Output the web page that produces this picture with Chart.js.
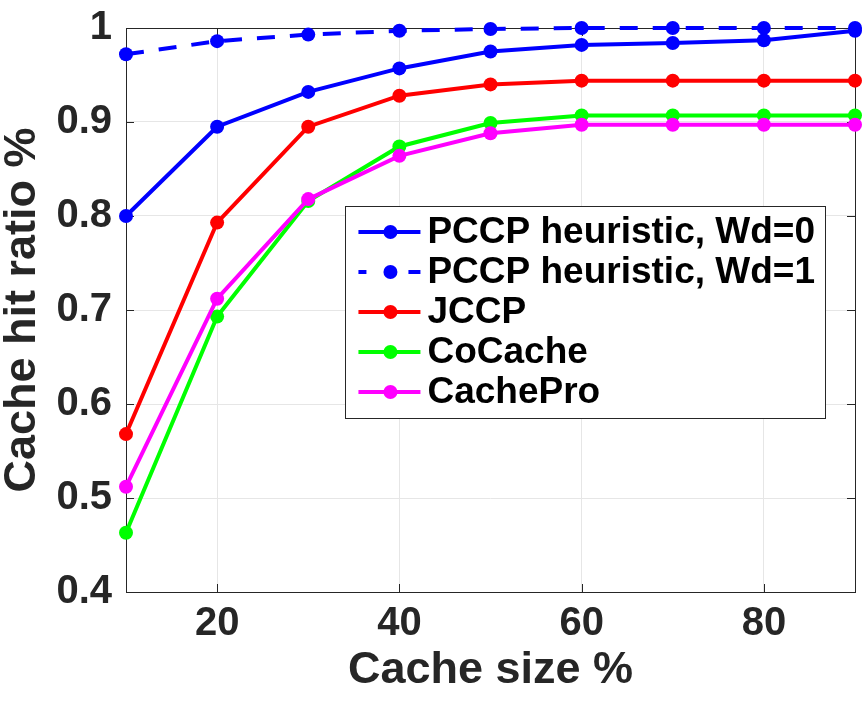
<!DOCTYPE html>
<html>
<head>
<meta charset="utf-8">
<script src="https://cdn.jsdelivr.net/npm/chart.js@4/dist/chart.umd.min.js"></script>
<style>
  body { margin: 0; background: #fff; }
</style>
</head>
<body>
<canvas id="hitChart" width="864" height="701"></canvas>
<script>
const cacheSizes = [10, 20, 30, 40, 50, 60, 70, 80, 90];
const pccpWd0 = [0.800, 0.895, 0.932, 0.957, 0.975, 0.982, 0.984, 0.987, 0.997];
const pccpWd1 = [0.972, 0.986, 0.993, 0.997, 0.999, 1.0, 1.0, 1.0, 1.0];
const jccp = [0.568, 0.793, 0.895, 0.928, 0.940, 0.944, 0.944, 0.944, 0.944];
const coCache = [0.463, 0.693, 0.816, 0.874, 0.899, 0.907, 0.907, 0.907, 0.907];
const cachePro = [0.512, 0.712, 0.818, 0.864, 0.888, 0.897, 0.897, 0.897, 0.897];
const xTicks = [20, 40, 60, 80];
const yTicks = [0.4, 0.5, 0.6, 0.7, 0.8, 0.9, 1];

const FONT = "'Liberation Sans', Arial, Helvetica, sans-serif";
const AXIS_COLOR = '#262626';

function series(label, values, color, dash, order) {
    return {
        label: label,
        data: cacheSizes.map((x, i) => ({ x: x, y: values[i] })),
        borderColor: color,
        backgroundColor: color,
        borderWidth: 4,
        borderDash: dash,
        pointRadius: 7,
        pointBorderWidth: 0,
        pointBackgroundColor: color,
        tension: 0,
        clip: false,
        order: order
    };
}

// axes box with inward tick marks, like the original figure
const boxPlugin = {
    id: 'axesBox',
    beforeDatasetsDraw(chart) {
        const { ctx, chartArea: a, scales } = chart;
        ctx.save();
        ctx.strokeStyle = AXIS_COLOR;
        ctx.lineWidth = 1;
        ctx.strokeRect(a.left + 0.5, a.top + 0.5, a.right - a.left, a.bottom - a.top);
        const len = 8;
        ctx.beginPath();
        xTicks.forEach(v => {
            const px = Math.round(scales.x.getPixelForValue(v)) + 0.5;
            ctx.moveTo(px, a.bottom); ctx.lineTo(px, a.bottom - len);
            ctx.moveTo(px, a.top); ctx.lineTo(px, a.top + len);
        });
        yTicks.forEach(v => {
            const py = Math.round(scales.y.getPixelForValue(v)) + 0.5;
            ctx.moveTo(a.left, py); ctx.lineTo(a.left + len, py);
            ctx.moveTo(a.right, py); ctx.lineTo(a.right - len, py);
        });
        ctx.stroke();
        ctx.restore();
    }
};

// legend box drawn inside the plot area
const legendPlugin = {
    id: 'insideLegend',
    afterDraw(chart) {
        const { ctx, chartArea: a } = chart;
        const sets = chart.data.datasets;
        ctx.save();
        ctx.font = 'bold 37px ' + FONT;
        let textW = 0;
        sets.forEach(ds => { textW = Math.max(textW, ctx.measureText(ds.label).width); });
        const rowH = 40;
        const w = 13 + 62 + 7 + textW + 10;
        const h = rowH * sets.length + 12;
        const right = a.right - 30;
        const left = right - w;
        const top = a.top + 178;
        ctx.fillStyle = '#fff';
        ctx.fillRect(left, top, w, h);
        ctx.strokeStyle = AXIS_COLOR;
        ctx.lineWidth = 1;
        ctx.strokeRect(Math.round(left) + 0.5, top + 0.5, Math.round(w), h);
        sets.forEach((ds, i) => {
            const cy = top + 26 + i * rowH;
            const x0 = left + 13;
            ctx.strokeStyle = ds.borderColor;
            ctx.lineWidth = 4;
            ctx.beginPath();
            if (ds.borderDash && ds.borderDash.length) {
                ctx.moveTo(x0, cy); ctx.lineTo(x0 + 8, cy);
                ctx.moveTo(x0 + 50, cy); ctx.lineTo(x0 + 62, cy);
            } else {
                ctx.moveTo(x0, cy); ctx.lineTo(x0 + 62, cy);
            }
            ctx.stroke();
            ctx.fillStyle = ds.borderColor;
            ctx.beginPath();
            ctx.arc(x0 + 32, cy, 7, 0, Math.PI * 2);
            ctx.fill();
            ctx.fillStyle = '#000';
            ctx.textBaseline = 'middle';
            ctx.textAlign = 'left';
            ctx.fillText(ds.label, x0 + 69, cy + 1);
        });
        ctx.restore();
    }
};

new Chart(document.getElementById('hitChart'), {
    type: 'line',
    data: {
        datasets: [
            series('PCCP heuristic, Wd=0', pccpWd0, '#0000ff', [], 4),
            series('PCCP heuristic, Wd=1', pccpWd1, '#0000ff', [18, 15], 3),
            series('JCCP', jccp, '#ff0000', [], 2),
            series('CoCache', coCache, '#00ff00', [], 1),
            series('CachePro', cachePro, '#ff00ff', [], 0)
        ]
    },
    options: {
        responsive: false,
        animation: false,
        layout: { padding: { top: 28, right: 9, left: 0, bottom: 0 } },
        plugins: {
            legend: { display: false },
            tooltip: { enabled: false }
        },
        scales: {
            x: {
                type: 'linear',
                min: 10,
                max: 90,
                afterBuildTicks: s => { s.ticks = xTicks.map(v => ({ value: v })); },
                afterFit: s => { s.height = 109; },
                grid: { color: '#e6e6e6', drawTicks: false },
                border: { display: false },
                ticks: {
                    color: AXIS_COLOR,
                    padding: 8,
                    maxRotation: 0,
                    font: { family: FONT, size: 40, weight: 'bold' }
                },
                title: {
                    display: true,
                    text: 'Cache size %',
                    color: AXIS_COLOR,
                    padding: { top: 0, bottom: 8 },
                    font: { family: FONT, size: 45, weight: 'bold', lineHeight: 1 }
                }
            },
            y: {
                min: 0.4,
                max: 1,
                afterBuildTicks: s => { s.ticks = yTicks.map(v => ({ value: v })); },
                afterFit: s => { s.width = 126; },
                grid: { color: '#e6e6e6', drawTicks: false },
                border: { display: false },
                ticks: {
                    color: AXIS_COLOR,
                    padding: 14,
                    callback: v => String(v),
                    font: { family: FONT, size: 40, weight: 'bold', lineHeight: 0.5 }
                },
                title: {
                    display: true,
                    text: 'Cache hit ratio %',
                    color: AXIS_COLOR,
                    padding: { top: 0, bottom: 0 },
                    font: { family: FONT, size: 45, weight: 'bold', lineHeight: 1 }
                }
            }
        }
    },
    plugins: [boxPlugin, legendPlugin]
});
</script>
</body>
</html>
